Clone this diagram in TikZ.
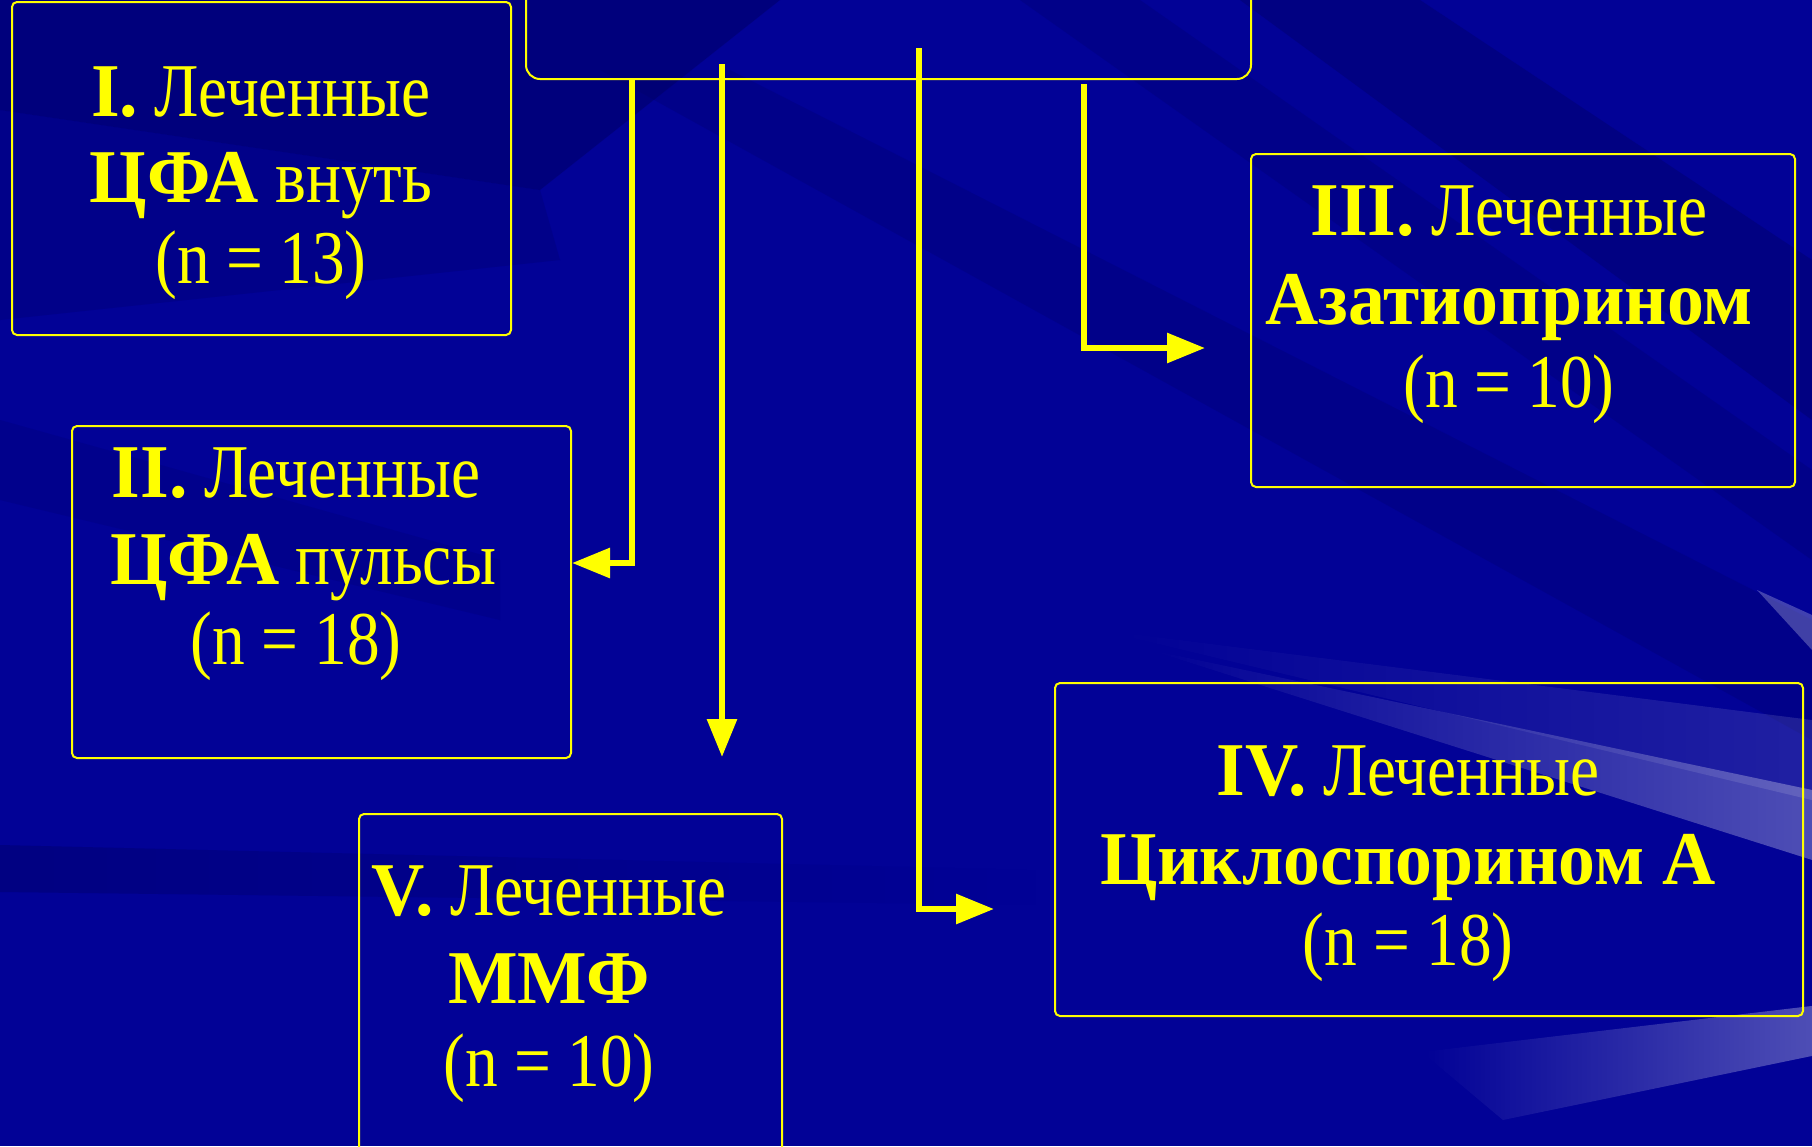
\documentclass[tikz,border=0pt]{standalone}
\usepackage{fontspec}
\setmainfont{Liberation Serif}[UprightFeatures={FakeStretch=0.86},BoldFeatures={FakeStretch=0.97}]
\usetikzlibrary{arrows.meta,fadings}
\definecolor{bgblue}{RGB}{2,2,150}
\definecolor{darkblue}{RGB}{0,0,100}
\definecolor{ylw}{RGB}{255,255,0}
\tikzset{
  grpbox/.style={draw=ylw, line width=2pt, rounded corners=5pt, inner sep=0pt},
  topbox/.style={draw=ylw, line width=2pt, rounded corners=14pt, inner sep=0pt},
  lbl/.style={text=ylw, anchor=base, inner sep=0pt, font=\fontsize{76}{86}\selectfont},
  conn/.style={draw=ylw, line width=6pt, -{Triangle[length=38pt,width=29pt]}},
  darkband/.style={fill=darkblue, draw=none},
}
\begin{document}
\begin{tikzpicture}[x=1pt,y=-1pt]
\useasboundingbox (0,0) rectangle (1812,1146);
\clip (0,0) rectangle (1812,1146);
% background
\fill[bgblue] (0,0) rectangle (1812,1146);
\fill[darkband, opacity=0.5] (0,0) -- (780,0) -- (540,190) -- (0,110) -- cycle;
\fill[darkband, opacity=0.25] (0,110) -- (540,190) -- (560,260) -- (0,320) -- cycle;
\fill[darkband, opacity=0.25] (600,70) -- (730,70) -- (1812,620) -- (1812,740) -- cycle;
\fill[darkband, opacity=0.2] (0,420) -- (500,560) -- (500,620) -- (0,500) -- cycle;
\fill[darkband, opacity=0.4] (1240,0) -- (1420,0) -- (1812,260) -- (1812,420) -- cycle;
\fill[darkband, opacity=0.25] (1020,0) -- (1140,0) -- (1812,470) -- (1812,560) -- cycle;
\fill[darkband, opacity=0.4, path fading=east] (0,845) -- (1040,870) -- (1040,905) -- (0,892) -- cycle;
\fill[white, opacity=0.3, path fading=west] (1150,650) -- (1812,790) -- (1812,860) -- cycle;
\fill[white, opacity=0.12, path fading=west] (1100,630) -- (1812,720) -- (1812,800) -- cycle;
\fill[white, opacity=0.3, path fading=west] (1422,1052) -- (1812,1006) -- (1812,1056) -- (1503,1120) -- cycle;
\fill[white, opacity=0.25] (1757,590) -- (1812,615) -- (1812,650) -- cycle;
% boxes
\node[topbox, minimum width=725pt, minimum height=110pt] (top) at (888.5,24) {};
\node[grpbox, minimum width=499pt, minimum height=333pt] (b1) at (261.5,168.5) {};
\node[grpbox, minimum width=499pt, minimum height=332pt] (b2) at (321.5,592) {};
\node[grpbox, minimum width=544pt, minimum height=333pt] (b3) at (1523,320.5) {};
\node[grpbox, minimum width=748pt, minimum height=333pt] (b4) at (1429,849.5) {};
\node[grpbox, minimum width=423pt, minimum height=340pt] (b5) at (570.5,984) {};
% texts
\node[lbl] (b1l1) at (261,116) {\textbf{I.} Леченные};
\node[lbl] (b1l2) at (261,202) {\textbf{ЦФА} внуть};
\node[lbl] (b1l3) at (261,283) {(n = 13)};
\node[lbl] (b2l1) at (296,497) {\textbf{II.} Леченные};
\node[lbl] (b2l2) at (303,584) {\textbf{ЦФА} пульсы};
\node[lbl] (b2l3) at (296,664) {(n = 18)};
\node[lbl] (b3l1) at (1509,235) {\textbf{III.} Леченные};
\node[lbl] (b3l2) at (1509,324) {\textbf{Азатиоприном}};
\node[lbl] (b3l3) at (1509,407) {(n = 10)};
\node[lbl] (b4l1) at (1408,795) {\textbf{IV.} Леченные};
\node[lbl] (b4l2) at (1408,884) {\textbf{Циклоспорином А}};
\node[lbl] (b4l3) at (1408,965) {(n = 18)};
\node[lbl] (b5l1) at (549,915) {\textbf{V.} Леченные};
\node[lbl] (b5l2) at (549,1003) {\textbf{ММФ}};
\node[lbl] (b5l3) at (549,1086) {(n = 10)};
% connectors
\coordinate (s1) at (632,79);
\coordinate (s2) at (722,64);
\coordinate (s3) at (919,48);
\coordinate (s4) at (1084,84);
\coordinate (t5) at (722,757);
\coordinate (t4) at (994,909);
\coordinate (t3) at (1205,348);
\draw[conn] (s1) |- (b2.east |- 0,563);
\draw[conn] (s2) -- (t5);
\draw[conn] (s3) |- (t4);
\draw[conn] (s4) |- (t3);
\end{tikzpicture}
\end{document}
